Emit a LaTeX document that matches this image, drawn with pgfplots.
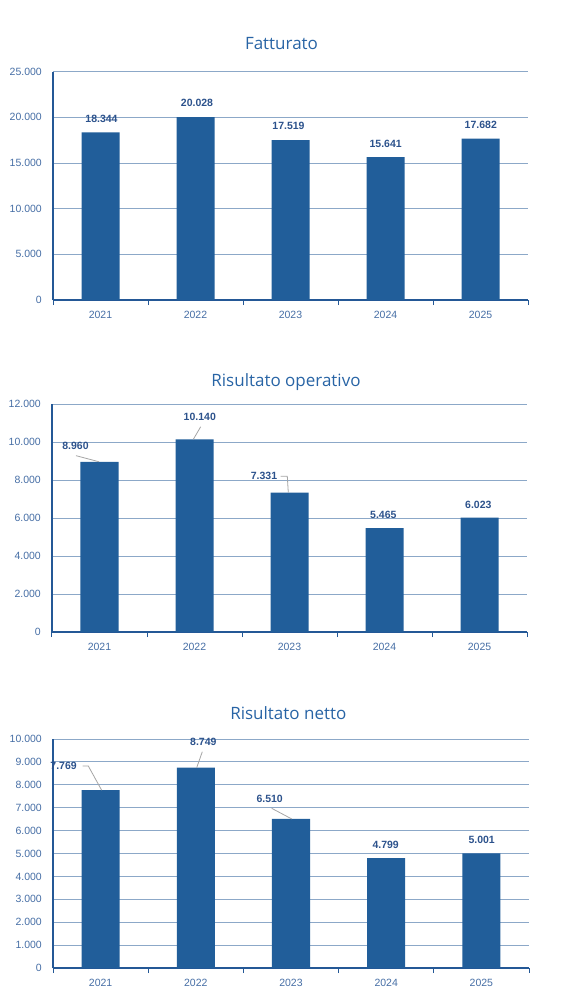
\documentclass[border=0pt]{standalone}
\usepackage{fontspec}
\setmainfont{Liberation Sans}
\newfontfamily\titlefont{Open Sans}
\usepackage{pgfplots}
\pgfplotsset{compat=1.18}
\usepackage{pgfplotstable}
\definecolor{barcol}{RGB}{33,94,154}
\definecolor{axiscol}{RGB}{36,88,150}
\definecolor{gridcol}{RGB}{140,168,200}
\definecolor{tickcol}{RGB}{70,110,165}
\definecolor{labcol}{RGB}{44,82,140}
\definecolor{titlecol}{RGB}{40,100,165}
\definecolor{leadcol}{RGB}{165,165,165}

% x = category index, y = value, dx/dy = label offset (pt) from bar top
\pgfplotstableread{
x y dx dy
0 18344 1.0 9.5
1 20028 1.5 10.5
2 17519 -2.0 10.0
3 15641 0.2 9.2
4 17682 0.3 9.8
}\fatturato

\pgfplotstableread{
x y dx dy
0 8960 -24.0 12.0
1 10140 5.3 18.8
2 7331 -25.5 12.9
3 5465 -1.2 9.4
4 6023 -1.2 8.8
}\operativo

\pgfplotstableread{
x y dx dy
0 7769 -37.0 20.3
1 8749 7.5 21.5
2 6510 -21.3 16.1
3 4799 -0.5 9.0
4 5001 0.3 9.7
}\netto

\pgfplotsset{
  mybars/.style={
    scale only axis, anchor=north west,
    xmin=-0.5, xmax=4.5, ymin=0,
    axis x line*=bottom, axis y line*=left,
    x axis line style={draw=axiscol, line width=1.3pt, -},
    y axis line style={draw=axiscol, line width=1.7pt, -},
    xtick={0,1,2,3,4}, xticklabels={2021,2022,2023,2024,2025},
    minor xtick={-0.5,0.5,1.5,2.5,3.5,4.5},
    tick align=outside, major tick length=0pt, minor tick length=5pt,
    minor x tick style={draw=axiscol, line width=1pt},
    ymajorgrids, xmajorgrids=false,
    grid style={draw=gridcol, line width=1pt},
    yticklabel style={font=\fontsize{10.5}{12}\selectfont, text=tickcol, anchor=east, inner sep=0pt, xshift=-11pt},
    xticklabel style={font=\fontsize{10.5}{12}\selectfont, text=tickcol, anchor=north, inner sep=0pt, yshift=-11pt},
    scaled y ticks=false,
    /pgf/number format/1000 sep={.},
    /pgf/number format/assume math mode=true,
    clip=false,
    ybar, bar width=0.4,
    visualization depends on={\thisrow{dx}\as\dx},
    visualization depends on={\thisrow{dy}\as\dy},
    nodes near coords,
    point meta=y,
    every node near coord/.append style={font=\bfseries\fontsize{10.5}{12}\selectfont, text=labcol, anchor=south, inner sep=0pt, xshift=\dx*1pt, yshift=\dy*1pt},
  },
  mybarplot/.style={fill=barcol, draw=none},
}

\begin{document}
\begin{tikzpicture}
\path[use as bounding box] (0pt,0pt) rectangle (579pt,-1006pt);

% ---------- Fatturato ----------
\node[font=\titlefont\fontsize{17}{20}\selectfont, text=titlecol, anchor=base] at (281.5pt,-49.3pt) {Fatturato};
\begin{axis}[mybars, at={(53pt,-71.7pt)}, width=475pt, height=228.3pt,
  ymax=25000, ytick={0,5000,10000,15000,20000,25000}]
\addplot[mybarplot] table[x=x,y=y] {\fatturato};
\end{axis}

% ---------- Risultato operativo ----------
\node[font=\titlefont\fontsize{17}{20}\selectfont, text=titlecol, anchor=base] at (286pt,-386.7pt) {Risultato operativo};
\begin{axis}[mybars, at={(52pt,-404pt)}, width=475pt, height=228pt,
  ymax=12000, ytick={0,2000,4000,6000,8000,10000,12000}]
\addplot[mybarplot] table[x=x,y=y] {\operativo};
\draw[leadcol, line width=0.8pt] ([xshift=-23.5pt,yshift=6.1pt]axis cs:0,8960) -- ([xshift=-0.5pt]axis cs:0,8960);
\draw[leadcol, line width=0.8pt] ([xshift=6.2pt,yshift=12.6pt]axis cs:1,10140) -- ([xshift=-1.2pt]axis cs:1,10140);
\draw[leadcol, line width=0.8pt] ([xshift=-8.8pt,yshift=16.4pt]axis cs:2,7331) -- ([xshift=-2.2pt,yshift=16.4pt]axis cs:2,7331) -- ([xshift=-1.2pt]axis cs:2,7331);
\end{axis}

% ---------- Risultato netto ----------
\node[font=\titlefont\fontsize{17}{20}\selectfont, text=titlecol, anchor=base] at (288.3pt,-719pt) {Risultato netto};
\begin{axis}[mybars, at={(53pt,-739pt)}, width=476pt, height=229pt,
  ymax=10000, ytick={0,1000,2000,3000,4000,5000,6000,7000,8000,9000,10000}]
\addplot[mybarplot] table[x=x,y=y] {\netto};
\draw[leadcol, line width=0.8pt] ([xshift=-17.9pt,yshift=24.1pt]axis cs:0,7769) -- ([xshift=-12.3pt,yshift=24.1pt]axis cs:0,7769) -- ([xshift=1pt]axis cs:0,7769);
\draw[leadcol, line width=0.8pt] ([xshift=6.5pt,yshift=15.9pt]axis cs:1,8749) -- ([xshift=0.9pt]axis cs:1,8749);
\draw[leadcol, line width=0.8pt] ([xshift=-19.3pt,yshift=10.6pt]axis cs:2,6510) -- ([xshift=0.7pt]axis cs:2,6510);
\end{axis}
\end{tikzpicture}
\end{document}
